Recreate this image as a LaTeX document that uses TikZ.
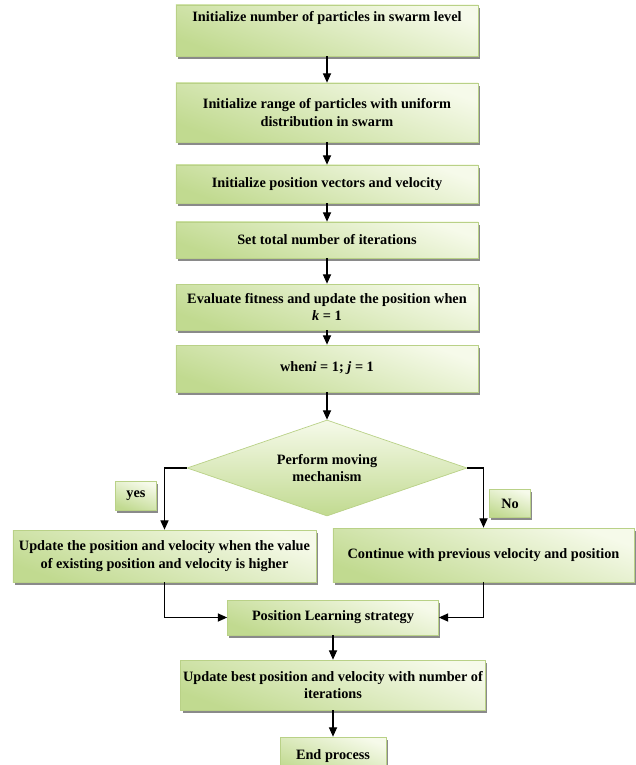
\documentclass[tikz,border=0pt]{standalone}
\usepackage{fontspec}
\setmainfont{Liberation Serif}
\usetikzlibrary{arrows.meta,shapes.geometric,shadows}
\definecolor{boxlight}{HTML}{F6FAEA}
\definecolor{boxdark}{HTML}{C1DA90}
\definecolor{boxedge}{HTML}{B9D187}
\tikzset{
  >={Triangle[length=8pt,width=7pt]},
  every path/.style={line width=0.9pt},
  stepbox/.style={draw=boxedge, line width=0.6pt,
    top color=boxlight, bottom color=boxdark, shading angle=-20,
    drop shadow={shadow xshift=1.5pt, shadow yshift=-2.2pt, fill=black!65, opacity=0.7},
    align=center, inner sep=2pt,
    font=\fontsize{12.2}{15}\selectfont\bfseries},
  wide/.style={stepbox, minimum width=9.06cm},
  decide/.style={diamond, aspect=2.9, draw=boxedge, line width=0.6pt,
    top color=boxlight, bottom color=boxdark,
    minimum width=8.4cm, minimum height=2.88cm, inner sep=0pt, align=center,
    font=\fontsize{12.2}{15}\selectfont\bfseries},
  tag/.style={stepbox, minimum width=1.23cm, minimum height=0.86cm}
}

\begin{document}
\begin{tikzpicture}[x=0.03cm, y=-0.03cm]
      \useasboundingbox (0,0) rectangle (635,765);

      \coordinate (Init) at (327, 30.5);
      \coordinate (Range) at (327, 112.5);
      \coordinate (PosVel) at (327, 184);
      \coordinate (Iter) at (327, 240);
      \coordinate (Fit) at (327, 307);
      \coordinate (Loop) at (327, 368.5);
      \coordinate (Move) at (327, 468);

      \coordinate (Upd) at (164.5, 556);
      \coordinate (Cont) at (483.5, 555);
      \coordinate (Yes) at (136, 496);
      \coordinate (No) at (510, 503.5);

      \coordinate (Learn) at (333, 617.5);
      \coordinate (Best) at (333, 685);
      \coordinate (End) at (333, 756);

      \node[wide, minimum height=1.53cm] (init) at (Init)
        {Initialize number of particles in swarm level\\[4pt]\strut};
      \node[wide, minimum height=1.77cm] (range) at (Range)
        {Initialize range of particles with uniform\\distribution in swarm};
      \node[wide, minimum height=1.14cm] (posvel) at (PosVel)
        {Initialize position vectors and velocity};
      \node[wide, minimum height=1.08cm] (iter) at (Iter)
        {Set total number of iterations};
      \node[wide, minimum height=1.38cm] (fit) at (Fit)
        {Evaluate fitness and update the position when\\\textit{k} = 1};
      \node[wide, minimum height=1.41cm] (loop) at (Loop)
        {when\textit{i} = 1; \textit{j} = 1};
      \node[decide] (move) at (Move) {Perform moving\\mechanism};

      \node[wide, minimum width=9.09cm, minimum height=1.56cm] (upd) at (Upd)
        {Update the position and velocity when the value\\of existing position and velocity is higher};
      \node[wide, minimum width=9.03cm, minimum height=1.62cm] (cont) at (Cont)
        {Continue with previous velocity and position};
      \node[tag] (yes) at (Yes) {yes};
      \node[tag] (no) at (No) {No};

      \node[stepbox, minimum width=6.33cm, minimum height=1.05cm] (learn) at (Learn)
        {Position Learning strategy};
      \node[wide, minimum height=1.5cm] (best) at (Best)
        {Update best position and velocity with number of\\iterations};
      \node[stepbox, minimum width=3.18cm, minimum height=1.14cm] (fin) at (End)
        {End process};

      \draw[->] (init) -- (range);
      \draw[->] (range) -- (posvel);
      \draw[->] (posvel) -- (iter);
      \draw[->] (iter) -- (fit);
      \draw[->] (fit) -- (loop);
      \draw[->] (loop) -- (move);

      \draw[->] (move.west) -| (upd.north);
      \draw[->] (move.east) -| (cont.north);

      \draw[->] (upd.south) |- (learn.west);
      \draw[->] (cont.south) |- (learn.east);

      \draw[->] (learn) -- (best);
      \draw[->] (best) -- (fin);
    \end{tikzpicture}
\end{document}
